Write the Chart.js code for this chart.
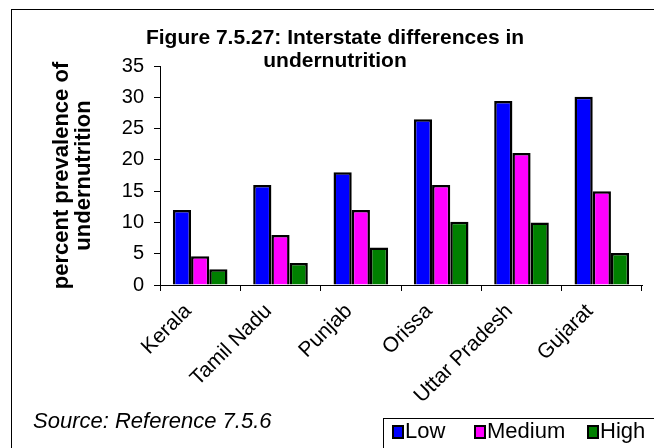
<!DOCTYPE html>
<html>
<head>
<meta charset="utf-8">
<script src="https://cdn.jsdelivr.net/npm/chart.js@4/dist/chart.umd.min.js"></script>
<style>
  body { margin: 0; background: #fff; }
  #wrap { width: 654px; height: 448px; position: relative; }
</style>
</head>
<body>
<div id="wrap"><canvas id="chart"></canvas></div>
<script>
const states = ["Kerala", "Tamil Nadu", "Punjab", "Orissa", "Uttar Pradesh", "Gujarat"]
const low = [12, 16, 18, 26.5, 29.4, 30.1]
const medium = [4.6, 8, 12, 16, 21.1, 15]
const high = [2.5, 3.5, 6, 10.1, 10, 5.1]
const yTicks = [0, 5, 10, 15, 20, 25, 30, 35]

const FONT = "'Liberation Sans', Arial, sans-serif"

// title, source, legend box and frame
const extras = {
   id: "extras",
   afterDraw(chart) {
      const ctx = chart.ctx
      ctx.save()
      ctx.strokeStyle = "#000"
      ctx.lineWidth = 1
      ctx.strokeRect(11.5, 9.5, 700, 500)

      ctx.fillStyle = "#000"
      ctx.font = "bold 21px " + FONT
      ctx.textAlign = "center"
      ctx.textBaseline = "alphabetic"
      ctx.fillText("Figure 7.5.27: Interstate differences in", 335, 44)
      ctx.fillText("undernutrition", 335, 67)

      ctx.textAlign = "left"
      ctx.font = "italic 22px " + FONT
      ctx.fillText("Source: Reference 7.5.6", 33, 428)

      // legend
      ctx.strokeStyle = "#000"
      ctx.lineWidth = 1
      ctx.strokeRect(383.5, 418.5, 320, 40)
      ctx.font = "22px " + FONT
      const xs = [393, 475, 588]
      chart.data.datasets.forEach((ds, i) => {
         ctx.fillStyle = ds.backgroundColor
         ctx.fillRect(xs[i], 426, 10, 12)
         ctx.lineWidth = 2
         ctx.strokeRect(xs[i], 426, 10, 12)
         ctx.fillStyle = "#000"
         ctx.fillText(ds.label, xs[i] + 12, 438)
      })
      ctx.restore()
   }
}

new Chart(document.getElementById("chart"), {
   type: "bar",
   data: {
      labels: states,
      datasets: [
         { label: "Low", data: low, backgroundColor: "#0000ff" },
         { label: "Medium", data: medium, backgroundColor: "#ff00ff" },
         { label: "High", data: high, backgroundColor: "#008000" }
      ]
   },
   options: {
      responsive: true,
      maintainAspectRatio: false,
      animation: false,
      datasets: {
         bar: {
            borderColor: "#000",
            borderWidth: 2.5,
            categoryPercentage: 0.68,
            barPercentage: 1
         }
      },
      layout: {
         padding: { left: 47, top: 66, right: 12, bottom: 0 }
      },
      plugins: {
         legend: { display: false },
         tooltip: { enabled: false }
      },
      scales: {
         x: {
            afterFit(scale) { scale.height = 448 - 285 },
            border: { color: "#000", width: 1 },
            grid: {
               drawOnChartArea: false,
               color: "#000",
               tickLength: 6,
               offset: true
            },
            ticks: {
               color: "#000",
               font: { family: FONT, size: 21 },
               minRotation: 45,
               maxRotation: 45,
               padding: 8,
               labelOffset: -12
            }
         },
         y: {
            min: 0,
            max: 35,
            afterFit(scale) { scale.width = 160 - 47 },
            afterBuildTicks(scale) { scale.ticks = yTicks.map(v => ({ value: v })) },
            border: { color: "#000", width: 1 },
            grid: {
               drawOnChartArea: false,
               color: "#000",
               tickLength: 6
            },
            ticks: {
               color: "#000",
               font: { family: FONT, size: 20 },
               padding: 10
            },
            title: {
               display: true,
               text: ["percent prevalence of", "undernutrition"],
               color: "#000",
               font: { family: FONT, size: 22, weight: "bold", lineHeight: 1.0 },
               padding: { top: 4, bottom: 0 }
            }
         }
      }
   },
   plugins: [extras]
})
</script>
</body>
</html>
